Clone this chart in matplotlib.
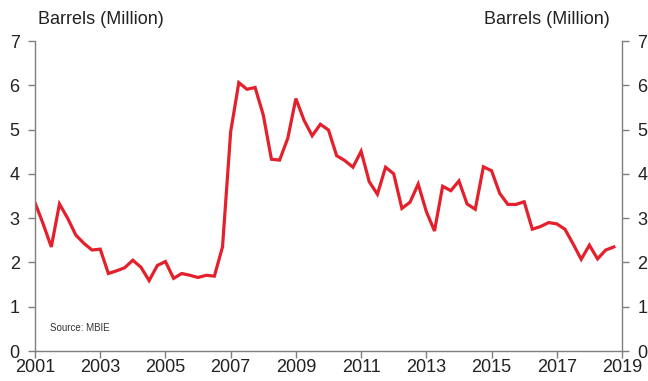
import numpy as np
import matplotlib
matplotlib.use("Agg")
import matplotlib.pyplot as plt

plt.rcParams["font.family"] = ["Liberation Sans", "DejaVu Sans"]

# Quarterly oil production, 2001 Q1 to 2018 Q4
start_year = 2001
values = [
    3.35, 2.87, 2.35, 3.32,   # 2001
    3.00, 2.62, 2.43, 2.28,   # 2002
    2.30, 1.75, 1.81, 1.88,   # 2003
    2.05, 1.89, 1.59, 1.93,   # 2004
    2.02, 1.64, 1.75, 1.71,   # 2005
    1.66, 1.71, 1.69, 2.35,   # 2006
    4.95, 6.06, 5.91, 5.95,   # 2007
    5.33, 4.33, 4.31, 4.80,   # 2008
    5.70, 5.21, 4.86, 5.12,   # 2009
    4.99, 4.41, 4.30, 4.15,   # 2010
    4.51, 3.82, 3.54, 4.15,   # 2011
    4.00, 3.22, 3.36, 3.77,   # 2012
    3.15, 2.71, 3.72, 3.62,   # 2013
    3.84, 3.32, 3.20, 4.16,   # 2014
    4.07, 3.56, 3.31, 3.31,   # 2015
    3.37, 2.75, 2.81, 2.90,   # 2016
    2.87, 2.75, 2.42, 2.07,   # 2017
    2.39, 2.08, 2.28, 2.35,   # 2018
]
x_ticks = list(range(2001, 2020, 2))
y_ticks = list(range(0, 8))

dates = start_year + np.arange(len(values)) / 4

fig = plt.figure(figsize=(6.48, 3.81), dpi=100)
ax = fig.add_axes([35 / 648, 30 / 381, 587 / 648, 310 / 381])

ax.plot(dates, values, color="#e3202b", linewidth=2.3, solid_joinstyle="miter")

ax.set_xlim(2001, 2019)
ax.set_ylim(0, 7)
ax.set_xticks(x_ticks)
ax.set_yticks(y_ticks)

spine_col = "#7f7f7f"
for side in ["left", "right", "bottom"]:
    ax.spines[side].set_color(spine_col)
    ax.spines[side].set_linewidth(1.0)
ax.spines["top"].set_visible(False)

ax.tick_params(axis="x", direction="out", length=5, width=1, color=spine_col,
               labelsize=13, pad=0.5, labelcolor="#222222")
ax.tick_params(axis="y", which="both", direction="out", length=5, width=1,
               color=spine_col, labelsize=13, pad=6, labelcolor="#222222",
               left=True, right=True, labelleft=True, labelright=True)

fig.text(38 / 648, 1 - 24 / 381, "Barrels (Million)", fontsize=13,
         color="#222222", ha="left", va="baseline")
fig.text(610 / 648, 1 - 24 / 381, "Barrels (Million)", fontsize=13,
         color="#222222", ha="right", va="baseline")
ax.text(2001.45, 0.45, "Source: MBIE", fontsize=7, color="#333333")

fig.savefig("out.png", dpi=100)
